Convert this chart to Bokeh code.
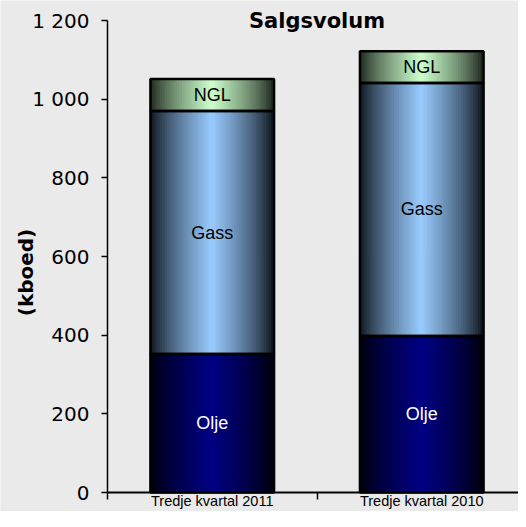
import math
from bokeh.plotting import figure
from bokeh.models import ColumnDataSource, Range1d, FixedTicker, Label
from bokeh.core.properties import value
from bokeh.embed import file_html
from bokeh.resources import INLINE

# ---- data ----
categories = ["Tredje kvartal 2011", "Tredje kvartal 2010"]
series = ["Olje", "Gass", "NGL"]
olje = [352, 398]
gass = [618, 643]
ngl = [81, 81]
y_ticks = [0, 200, 400, 600, 800, 1000, 1200]
y_tick_labels = ["0", "200", "400", "600", "800", "1 000", "1 200"]
title_text = "Salgsvolum"
y_label_text = "(kboed)"

values = {"Olje": olje, "Gass": gass, "NGL": ngl}

# ---- styles ----
center_colors = {"Olje": (0, 0, 132), "Gass": (153, 204, 255), "NGL": (204, 255, 204)}
edge_colors = {"Olje": (0, 0, 6), "Gass": (8, 12, 18), "NGL": (22, 30, 22)}
label_colors = {"Olje": "white", "Gass": "black", "NGL": "black"}
bg = "#EAEAEA"
bar_width = 0.59
n_slices = 50

W, H = 518, 511
ax_x, ax_y0, ax_y1 = 107, 492, 20          # pixel positions of the axes
px_per_cat = 209.5
px_per_unit = (ax_y0 - ax_y1) / 1200.0
x_start = -ax_x / px_per_cat
x_end = (W - ax_x) / px_per_cat
y_start = -(H - ax_y0) / px_per_unit
y_end = 1200 + ax_y1 / px_per_unit

p = figure(width=W, height=H, output_backend="svg", toolbar_location=None,
           x_range=Range1d(x_start, x_end), y_range=Range1d(y_start, y_end),
           min_border_left=0, min_border_right=0, min_border_top=0, min_border_bottom=0)
p.background_fill_color = bg
p.border_fill_color = bg
p.outline_line_color = None
p.xgrid.visible = False
p.ygrid.visible = False

centers = [i + 0.5 for i in range(len(categories))]

sx, sw, stop, sbot, scol = [], [], [], [], []
ox, otop, obot = [], [], []
tx, ty, tt, tc = [], [], [], []
bottoms = [0] * len(categories)
step = bar_width / n_slices
for s in series:
    c = center_colors[s]
    e = edge_colors[s]
    for i, cx in enumerate(centers):
        b = bottoms[i]
        t_ = b + values[s][i]
        for k in range(n_slices):
            t = (k + 0.5) / n_slices * 2 - 1
            w = (1 - abs(t)) ** 0.75
            col = tuple(int(round(e[j] + (c[j] - e[j]) * w)) for j in range(3))
            sx.append(cx - bar_width / 2 + (k + 0.5) * step)
            sw.append(step * 1.5)
            stop.append(t_)
            sbot.append(b)
            scol.append("#%02x%02x%02x" % col)
        ox.append(cx)
        otop.append(t_)
        obot.append(b)
        tx.append(cx)
        ty.append(b + values[s][i] / 2)
        tt.append(s)
        tc.append(label_colors[s])
        bottoms[i] = t_

slices = ColumnDataSource(dict(x=sx, w=sw, top=stop, bottom=sbot, color=scol))
p.vbar(x="x", width="w", top="top", bottom="bottom", fill_color="color",
       line_color=None, source=slices)

outl = ColumnDataSource(dict(x=ox, top=otop, bottom=obot))
p.vbar(x="x", width=bar_width, top="top", bottom="bottom", fill_color=None,
       line_color="black", line_width=2.5, source=outl)

labels = ColumnDataSource(dict(x=tx, y=ty, text=tt, color=tc))
p.text(x="x", y="y", text="text", text_color="color", source=labels,
       text_font=value("Liberation Sans"), text_font_size="18px",
       text_align="center", text_baseline="middle")

# axes
xa = p.xaxis[0]
xa.fixed_location = 0
xa.bounds = (0, len(categories))
xa.ticker = FixedTicker(ticks=centers, minor_ticks=list(range(len(categories) + 1)))
xa.major_label_overrides = {centers[i]: categories[i] for i in range(len(categories))}
xa.major_tick_out = 0
xa.major_tick_in = 0
xa.minor_tick_out = 7
xa.minor_tick_in = 0
xa.minor_tick_line_color = "black"
xa.minor_tick_line_width = 1.5
xa.axis_line_color = "black"
xa.axis_line_width = 2
xa.major_label_standoff = -7
xa.major_label_text_font = "Liberation Sans"
xa.major_label_text_font_size = "14.5px"
xa.major_label_text_color = "black"

ya = p.yaxis[0]
ya.fixed_location = 0
ya.bounds = (0, 1200)
ya.ticker = FixedTicker(ticks=y_ticks, minor_ticks=[])
ya.major_label_overrides = {y_ticks[i]: y_tick_labels[i] for i in range(len(y_ticks))}
ya.major_tick_out = 6
ya.major_tick_in = 0
ya.major_tick_line_color = "black"
ya.major_tick_line_width = 1.5
ya.minor_tick_out = 0
ya.minor_tick_in = 0
ya.axis_line_color = "black"
ya.axis_line_width = 1.5
ya.major_label_standoff = 12
ya.major_label_text_font = "DejaVu Sans"
ya.major_label_text_font_size = "20px"
ya.major_label_text_color = "black"

p.add_layout(Label(x=len(categories) / 2, y=1200, text=title_text,
                   text_font="DejaVu Sans", text_font_style="bold", text_font_size="21px",
                   text_align="center", text_baseline="middle", text_color="black"))
p.add_layout(Label(x=(25 - ax_x) / px_per_cat, y=(ax_y0 - 272) / px_per_unit,
                   text=y_label_text, angle=math.pi / 2,
                   text_font="DejaVu Sans", text_font_style="bold", text_font_size="20px",
                   text_align="center", text_baseline="middle", text_color="black"))

open("out.html", "w").write(file_html(p, INLINE))
